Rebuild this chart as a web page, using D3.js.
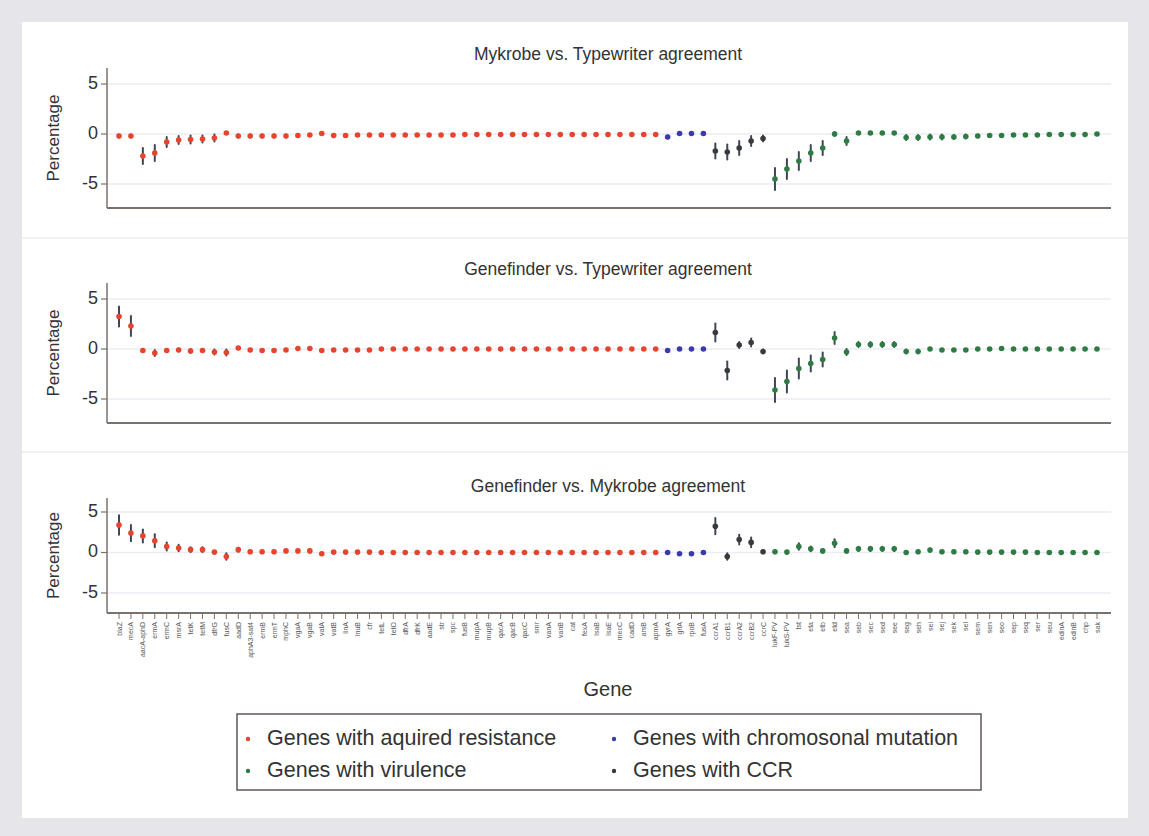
<!DOCTYPE html>
<html>
<head>
<meta charset="utf-8">
<script src="https://cdn.jsdelivr.net/npm/d3@7"></script>
<style>
  body { margin: 0; background: #e6e6ea; }
  svg { display: block; font-family: "Liberation Sans", Arial, sans-serif; }
</style>
</head>
<body>
<svg id="chart" width="1149" height="836"></svg>
<script>
// gene names (x categories), grouped by type
const resistanceGenes = ["blaZ", "mecA", "aacA-aphD", "ermA", "ermC", "msrA", "tetK", "tetM", "dfrG", "fusC",
  "aadD", "aphA3-sat4", "ermB", "ermT", "mphC", "vgaA", "vgaB", "vatA", "vatB", "linA",
  "lnuB", "cfr", "tetL", "tetO", "dfrA", "dfrK", "aadE", "str", "spc", "fusB",
  "mupA", "mupB", "qacA", "qacB", "qacC", "smr", "vanA", "vanB", "cat", "fexA",
  "lsaB", "lsaE", "mecC", "cadD", "arsB", "apmA"];
const chromosomalGenes = ["gyrA", "grlA", "rpoB", "fusA"];
const ccrGenes = ["ccrA1", "ccrB1", "ccrA2", "ccrB2", "ccrC"];
const virulenceGenes = ["lukF-PV", "lukS-PV", "tst", "eta", "etb", "etd", "sea", "seb", "sec", "sed",
  "see", "seg", "seh", "sei", "sej", "sek", "sel", "sem", "sen", "seo",
  "sep", "seq", "ser", "seu", "edinA", "edinB", "chp", "sak"];

const groupNames = ["Genes with aquired resistance", "Genes with chromosonal mutation",
  "Genes with virulence", "Genes with CCR"];
const groupColors = ["#e8432c", "#3a3aad", "#2f7b44", "#3a3a3a"];

const panelTitles = ["Mykrobe vs. Typewriter agreement", "Genefinder vs. Typewriter agreement",
  "Genefinder vs. Mykrobe agreement"];
const yTicks = [-5, 0, 5];

// percentage differences, in gene order (resistance, chromosomal, CCR, virulence)
const mykrobeTypewriter = [
  -0.2, -0.2, -2.2, -1.9, -0.8, -0.6, -0.55, -0.5, -0.4, 0.1,
  -0.2, -0.2, -0.2, -0.2, -0.2, -0.15, -0.1, 0.05, -0.15, -0.15,
  -0.1, -0.1, -0.1, -0.1, -0.1, -0.1, -0.1, -0.1, -0.1, -0.05,
  -0.05, -0.05, -0.05, -0.05, -0.05, -0.05, -0.05, -0.05, -0.05, -0.05,
  -0.05, -0.05, -0.05, -0.05, -0.05, -0.05,
  -0.3, 0.05, 0.05, 0.05,
  -1.7, -1.8, -1.4, -0.7, -0.45,
  -4.5, -3.5, -2.7, -1.9, -1.4, 0.0, -0.7, 0.1, 0.1, 0.1,
  0.1, -0.35, -0.35, -0.3, -0.3, -0.3, -0.25, -0.2, -0.15, -0.15,
  -0.1, -0.1, -0.1, -0.05, -0.05, -0.05, -0.05, 0.0];
const mykrobeTypewriterErr = [
  0.15, 0.15, 0.8, 0.8, 0.5, 0.4, 0.4, 0.35, 0.35, 0.1,
  0.15, 0.15, 0.15, 0.15, 0.15, 0.1, 0.1, 0.1, 0.1, 0.1,
  0.1, 0.1, 0.1, 0.1, 0.1, 0.1, 0.1, 0.1, 0.1, 0.1,
  0.1, 0.1, 0.1, 0.1, 0.1, 0.1, 0.1, 0.1, 0.1, 0.1,
  0.1, 0.1, 0.1, 0.1, 0.1, 0.1,
  0.15, 0.1, 0.1, 0.1,
  0.75, 0.75, 0.7, 0.5, 0.3,
  1.1, 1.0, 0.9, 0.8, 0.7, 0.2, 0.4, 0.1, 0.1, 0.1,
  0.1, 0.25, 0.25, 0.25, 0.25, 0.2, 0.2, 0.15, 0.15, 0.15,
  0.1, 0.1, 0.1, 0.1, 0.1, 0.1, 0.1, 0.1];

const genefinderTypewriter = [
  3.25, 2.3, -0.15, -0.4, -0.15, -0.1, -0.2, -0.15, -0.3, -0.35,
  0.1, -0.1, -0.15, -0.15, -0.1, 0.05, 0.05, -0.15, -0.1, -0.1,
  -0.1, -0.1, 0.0, 0.0, 0.0, 0.0, 0.0, 0.0, 0.0, 0.0,
  0.0, 0.0, 0.0, 0.0, 0.0, 0.0, 0.0, 0.0, 0.0, 0.0,
  0.0, 0.0, 0.0, 0.0, 0.0, 0.0,
  -0.15, 0.0, 0.0, 0.0,
  1.65, -2.15, 0.4, 0.65, -0.25,
  -4.1, -3.25, -1.95, -1.45, -1.05, 1.1, -0.3, 0.45, 0.45, 0.45,
  0.45, -0.25, -0.25, 0.0, -0.1, -0.1, -0.1, 0.0, 0.0, 0.05,
  0.0, 0.0, 0.0, 0.0, 0.0, 0.0, 0.0, 0.0];
const genefinderTypewriterErr = [
  1.0, 1.0, 0.15, 0.3, 0.15, 0.15, 0.2, 0.15, 0.25, 0.3,
  0.1, 0.1, 0.1, 0.1, 0.1, 0.1, 0.1, 0.1, 0.1, 0.1,
  0.1, 0.1, 0.1, 0.1, 0.1, 0.1, 0.1, 0.1, 0.1, 0.1,
  0.1, 0.1, 0.1, 0.1, 0.1, 0.1, 0.1, 0.1, 0.1, 0.1,
  0.1, 0.1, 0.1, 0.1, 0.1, 0.1,
  0.15, 0.1, 0.1, 0.1,
  0.9, 0.9, 0.3, 0.4, 0.2,
  1.2, 1.1, 1.0, 0.8, 0.7, 0.6, 0.3, 0.25, 0.25, 0.25,
  0.25, 0.2, 0.2, 0.1, 0.1, 0.1, 0.1, 0.1, 0.1, 0.1,
  0.1, 0.1, 0.1, 0.1, 0.1, 0.1, 0.1, 0.1];

const genefinderMykrobe = [
  3.4, 2.4, 2.05, 1.45, 0.75, 0.55, 0.35, 0.35, 0.05, -0.5,
  0.35, 0.1, 0.1, 0.1, 0.2, 0.2, 0.2, -0.15, 0.05, 0.05,
  0.05, 0.05, 0.0, 0.0, 0.0, 0.0, 0.0, 0.0, 0.0, 0.0,
  0.0, 0.0, 0.0, 0.0, 0.0, 0.0, 0.0, 0.0, 0.0, 0.0,
  0.0, 0.0, 0.0, 0.0, 0.0, 0.0,
  0.0, -0.15, -0.15, 0.0,
  3.25, -0.5, 1.6, 1.25, 0.1,
  0.1, 0.05, 0.75, 0.45, 0.2, 1.15, 0.2, 0.45, 0.45, 0.45,
  0.45, 0.0, 0.1, 0.3, 0.1, 0.1, 0.1, 0.05, 0.05, 0.05,
  0.05, 0.05, 0.0, 0.0, 0.0, 0.0, 0.0, 0.0];
const genefinderMykrobeErr = [
  1.2, 1.0, 0.8, 0.8, 0.5, 0.4, 0.3, 0.3, 0.15, 0.4,
  0.25, 0.15, 0.15, 0.15, 0.15, 0.15, 0.15, 0.15, 0.1, 0.1,
  0.1, 0.1, 0.1, 0.1, 0.1, 0.1, 0.1, 0.1, 0.1, 0.1,
  0.1, 0.1, 0.1, 0.1, 0.1, 0.1, 0.1, 0.1, 0.1, 0.1,
  0.1, 0.1, 0.1, 0.1, 0.1, 0.1,
  0.1, 0.1, 0.1, 0.1,
  1.0, 0.4, 0.6, 0.6, 0.15,
  0.15, 0.15, 0.4, 0.3, 0.2, 0.5, 0.2, 0.25, 0.25, 0.25,
  0.25, 0.1, 0.15, 0.2, 0.1, 0.1, 0.1, 0.1, 0.1, 0.1,
  0.1, 0.1, 0.1, 0.1, 0.1, 0.1, 0.1, 0.1];

const panelValues = [mykrobeTypewriter, genefinderTypewriter, genefinderMykrobe];
const panelErrors = [mykrobeTypewriterErr, genefinderTypewriterErr, genefinderMykrobeErr];

// build gene table
const genes = [];
[resistanceGenes, chromosomalGenes, ccrGenes, virulenceGenes].forEach((list, gi) => {
  const group = [0, 1, 3, 2][gi];
  list.forEach((g) => genes.push({ name: g, group: group }));
});

const svg = d3.select("#chart");
const axisColor = "#7b716c";
const textColor = "#333";

svg.append("rect")
  .attr("x", 22).attr("y", 22)
  .attr("width", 1106).attr("height", 796)
  .attr("fill", "white");

// panel separators
[238, 452].forEach((y) => {
  svg.append("line")
    .attr("x1", 22).attr("x2", 1128)
    .attr("y1", y).attr("y2", y)
    .attr("stroke", "#ececef").attr("stroke-width", 1.5);
});

const axisLeft = 107, axisRight = 1111;
const x = d3.scalePoint()
  .domain(genes.map((d) => d.name))
  .range([119, 1097]);

// layout per panel: pixel y of -5 and 5, title y, axis top/bottom
const layouts = [
  { yLo: 184, yHi: 84, title: 55, top: 68, bottom: 208 },
  { yLo: 399, yHi: 299, title: 270, top: 283, bottom: 423 },
  { yLo: 593, yHi: 512, title: 487, top: 498, bottom: 613 }
];

layouts.forEach((L, p) => {
  const y = d3.scaleLinear().domain([-5, 5]).range([L.yLo, L.yHi]);
  const g = svg.append("g");

  g.append("text")
    .attr("x", 608).attr("y", L.title)
    .attr("text-anchor", "middle")
    .attr("dominant-baseline", "middle")
    .attr("font-size", 17.5)
    .attr("fill", textColor)
    .text(panelTitles[p]);

  // gridlines
  g.selectAll("line.grid")
    .data(yTicks)
    .enter()
    .append("line")
    .attr("x1", axisLeft).attr("x2", axisRight)
    .attr("y1", (d) => y(d)).attr("y2", (d) => y(d))
    .attr("stroke", "#eaedf2").attr("stroke-width", 1.5);

  // y axis
  g.append("line")
    .attr("x1", axisLeft).attr("x2", axisLeft)
    .attr("y1", L.top).attr("y2", L.bottom)
    .attr("stroke", axisColor).attr("stroke-width", 1.5);
  g.selectAll("line.ytick")
    .data(yTicks)
    .enter()
    .append("line")
    .attr("x1", axisLeft - 6).attr("x2", axisLeft)
    .attr("y1", (d) => y(d)).attr("y2", (d) => y(d))
    .attr("stroke", axisColor).attr("stroke-width", 1.2);
  g.selectAll("text.ytick")
    .data(yTicks)
    .enter()
    .append("text")
    .attr("x", axisLeft - 9)
    .attr("y", (d) => y(d))
    .attr("text-anchor", "end")
    .attr("dominant-baseline", "middle")
    .attr("font-size", 18)
    .attr("fill", textColor)
    .text((d) => d);

  g.append("text")
    .attr("transform", `translate(55,${(L.top + L.bottom) / 2}) rotate(-90)`)
    .attr("text-anchor", "middle")
    .attr("dominant-baseline", "middle")
    .attr("font-size", 17)
    .attr("fill", textColor)
    .text("Percentage");

  // x axis
  g.append("line")
    .attr("x1", axisLeft).attr("x2", axisRight)
    .attr("y1", L.bottom).attr("y2", L.bottom)
    .attr("stroke", axisColor).attr("stroke-width", 2.2);

  const vals = panelValues[p], errs = panelErrors[p];
  const pts = genes.map((d, i) => ({ name: d.name, group: d.group, v: vals[i], e: errs[i] }));

  g.append("g")
    .selectAll("line")
    .data(pts)
    .enter()
    .append("line")
    .attr("x1", (d) => x(d.name)).attr("x2", (d) => x(d.name))
    .attr("y1", (d) => y(d.v - d.e)).attr("y2", (d) => y(d.v + d.e))
    .attr("stroke", "#3d4756").attr("stroke-width", 2)
    .attr("stroke-linecap", "round");

  g.append("g")
    .selectAll("circle")
    .data(pts)
    .enter()
    .append("circle")
    .attr("cx", (d) => x(d.name))
    .attr("cy", (d) => y(d.v))
    .attr("r", 2.8)
    .attr("fill", (d) => groupColors[d.group]);

  if (p === 2) {
    g.selectAll("line.xtick")
      .data(genes)
      .enter()
      .append("line")
      .attr("x1", (d) => x(d.name)).attr("x2", (d) => x(d.name))
      .attr("y1", L.bottom).attr("y2", L.bottom + 6)
      .attr("stroke", axisColor).attr("stroke-width", 1);
    g.selectAll("text.xtick")
      .data(genes)
      .enter()
      .append("text")
      .attr("transform", (d) => `translate(${x(d.name) + 2.5},${L.bottom + 9}) rotate(-90)`)
      .attr("text-anchor", "end")
      .attr("font-size", 7)
      .attr("fill", "#555")
      .text((d) => d.name);
  }
});

svg.append("text")
  .attr("x", 608).attr("y", 691)
  .attr("text-anchor", "middle")
  .attr("dominant-baseline", "middle")
  .attr("font-size", 20)
  .attr("fill", textColor)
  .text("Gene");

// legend
const legend = svg.append("g");
legend.append("rect")
  .attr("x", 237).attr("y", 714)
  .attr("width", 744).attr("height", 76)
  .attr("fill", "white")
  .attr("stroke", "#5e5654").attr("stroke-width", 1.5);
const legendPos = [[248, 739], [614, 739], [248, 771], [614, 771]];
groupNames.forEach((name, i) => {
  legend.append("circle")
    .attr("cx", legendPos[i][0]).attr("cy", legendPos[i][1])
    .attr("r", 2.2)
    .attr("fill", groupColors[i]);
  legend.append("text")
    .attr("x", legendPos[i][0] + 19).attr("y", legendPos[i][1])
    .attr("dominant-baseline", "middle")
    .attr("font-size", 21.5)
    .attr("fill", textColor)
    .text(name);
});
</script>
</body>
</html>
